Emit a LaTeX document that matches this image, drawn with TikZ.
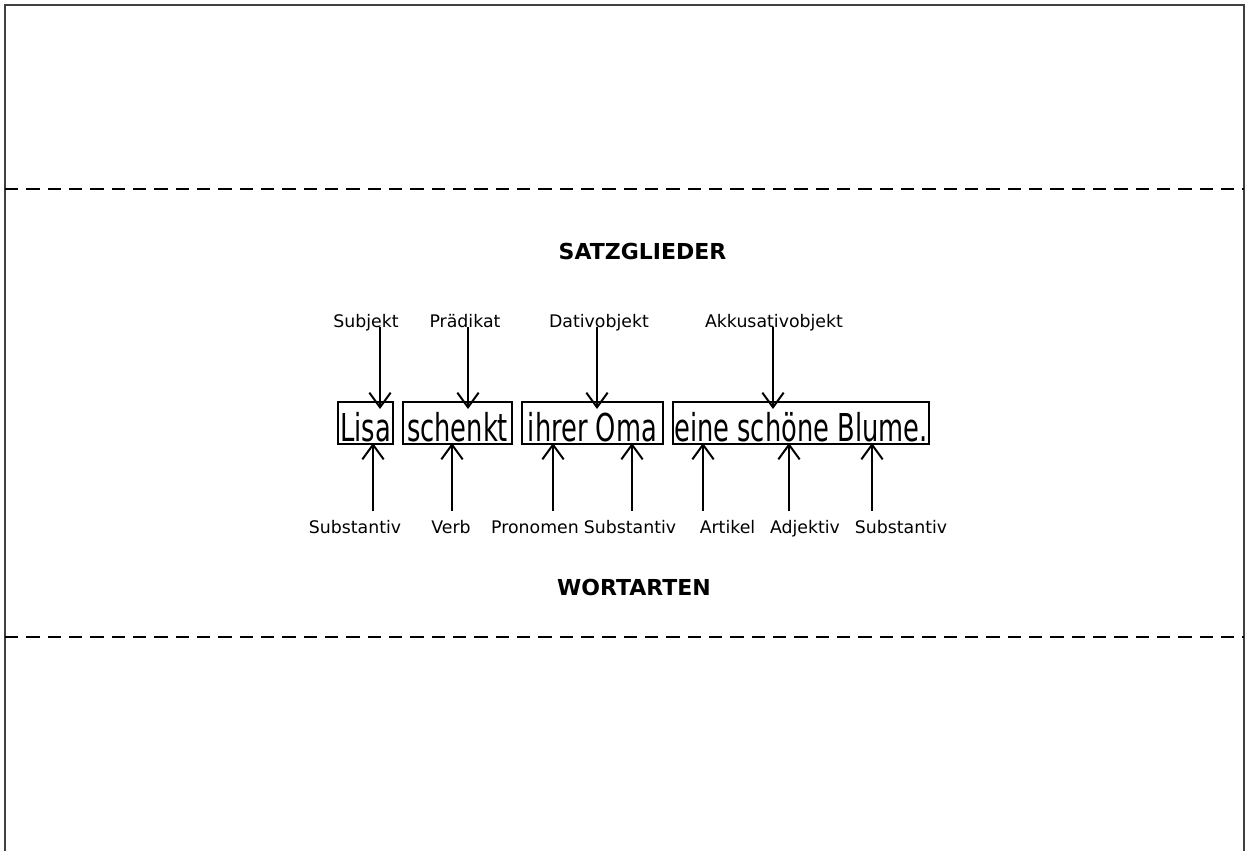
\documentclass[tikz,border=0pt]{standalone}
\usepackage{fontspec}
\setmainfont{DejaVu Sans}
\usetikzlibrary{positioning}
\usetikzlibrary{calc}
\usetikzlibrary{arrows.meta}

\tikzset{
  wort/.style={draw, line width=1.5pt, inner sep=0pt, text height=29.25pt, text depth=2.25pt, font=\fontsize{28.8}{34}\selectfont},
  glied/.style={inner sep=0pt, anchor=base, font=\fontsize{13}{15}\selectfont},
  wortart/.style={inner xsep=0pt, inner ysep=6.5pt, text height=10pt, text depth=3pt, anchor=base, font=\fontsize{13}{15}\selectfont},
  titel/.style={inner sep=0pt, font=\fontsize{16.5}{20}\selectfont\bfseries},
  pfeil/.style={line width=1.5pt, -{Straight Barb[length=11pt,width=16pt]}},
  trenn/.style={line width=1.5pt, dash pattern=on 10pt off 6pt}
}
\newcommand{\eng}[1]{\scalebox{0.67}[1]{#1}}

\begin{document}
\begin{tikzpicture}[x=0.75pt,y=-0.75pt]
\useasboundingbox (0,0) rectangle (1245,851);
\draw[line width=1.5pt, black!75] (5,851) -- (5,5) -- (1243.5,5) -- (1243.5,851);
\coordinate (linksA) at (5,189);
\coordinate (rechtsA) at (1243.5,189);
\coordinate (linksB) at (5,637);
\coordinate (rechtsB) at (1243.5,637);
\draw[trenn] (linksA) -- (rechtsA);
\draw[trenn] (linksB) -- (rechtsB);

\node[titel](satz) at (642.5,251){SATZGLIEDER};
\node[titel](arten) at (634,587){WORTARTEN};

% der Satz
\node[wort, minimum width=41.25pt](lisa) at (365.5,423){\eng{Lisa}};
\node[wort, minimum width=81.75pt](schenkt) at (457.5,423){\eng{schenkt}};
\node[wort, minimum width=105.75pt](oma) at (592.5,423){\eng{ihrer Oma}};
\node[wort, minimum width=192pt](blume) at (801,423){\eng{eine schöne Blume.}};

% Satzglieder oben
\node[glied](subj) at (366,327){Subjekt};
\node[glied](praed) at (465,327){Prädikat};
\node[glied](dat) at (599,327){Dativobjekt};
\node[glied](akk) at (774,327){Akkusativobjekt};
\coordinate (t1) at (380,409);
\coordinate (t2) at (468,409);
\coordinate (t3) at (597,409);
\coordinate (t4) at (773,409);

% Wortarten unten
\node[wortart](substA) at (355,533){Substantiv};
\node[wortart](verb) at (451,533){Verb};
\node[wortart](pron) at (535,533){Pronomen};
\node[wortart](substB) at (630,533){Substantiv};
\node[wortart](art) at (727.5,533){Artikel};
\node[wortart](adj) at (805,533){Adjektiv};
\node[wortart](substC) at (901,533){Substantiv};
\coordinate (b1) at (373,443);
\coordinate (b2) at (452,443);
\coordinate (b3) at (553,443);
\coordinate (b4) at (632,443);
\coordinate (b5) at (703,443);
\coordinate (b6) at (789,443);
\coordinate (b7) at (872,443);

\path
(subj.base -| t1) edge[pfeil] (t1)
(praed.base -| t2) edge[pfeil] (t2)
(dat.base -| t3) edge[pfeil] (t3)
(akk.base -| t4) edge[pfeil] (t4)
(substA.north -| b1) edge[pfeil] (b1)
(verb.north -| b2) edge[pfeil] (b2)
(pron.north -| b3) edge[pfeil] (b3)
(substB.north -| b4) edge[pfeil] (b4)
(art.north -| b5) edge[pfeil] (b5)
(adj.north -| b6) edge[pfeil] (b6)
(substC.north -| b7) edge[pfeil] (b7);
\end{tikzpicture}
\end{document}
